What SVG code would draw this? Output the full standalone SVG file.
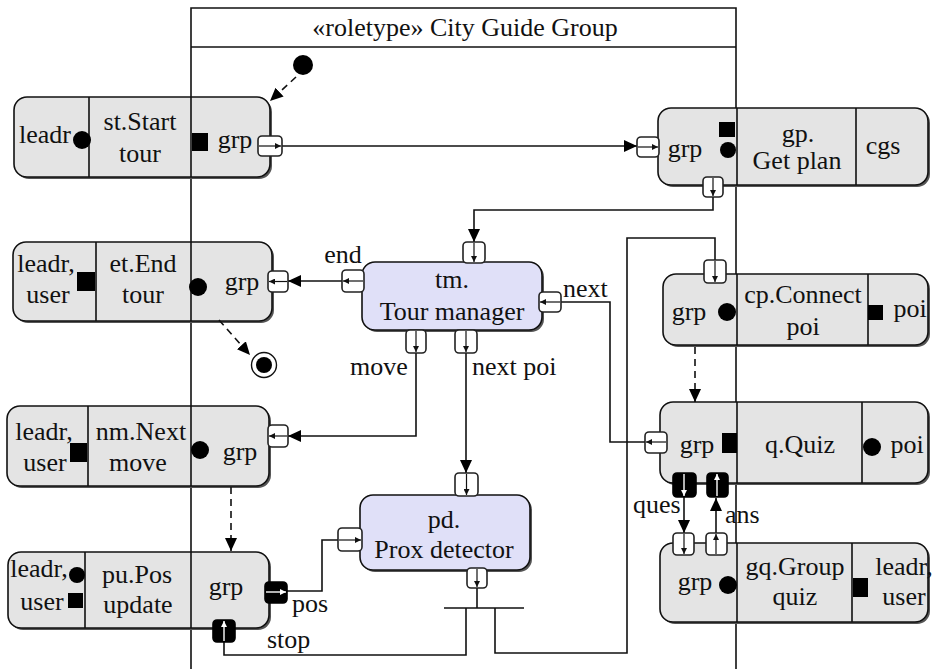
<svg xmlns="http://www.w3.org/2000/svg" width="933" height="669" viewBox="0 0 933 669" font-family="Liberation Serif, DejaVu Serif, serif">
<style>
text{font-size:26px;fill:#111;text-anchor:middle}
.lbl{text-anchor:start}
.box{fill:#e4e4e4;stroke:#111;stroke-width:1.6}
.comp{fill:#e0e0f8;stroke:#111;stroke-width:1.6}
.shadow{fill:#555}
.div{stroke:#111;stroke-width:1.6;fill:none}
.pin{fill:#000}
.port{fill:#fff;stroke:#222;stroke-width:1.6}
.bport{fill:#000;stroke:#000;stroke-width:1.6}
.pa{stroke:#111;stroke-width:1.2;fill:none;marker-end:url(#pah)}
.pw{stroke:#fff;stroke-width:1.4;fill:none;marker-end:url(#paw)}
.con{stroke:#111;stroke-width:1.6;fill:none}
.arr{marker-end:url(#ah)}
.dash{stroke-dasharray:7,5}
.frame{stroke:#111;stroke-width:1.6;fill:none}
</style>
<defs>
<marker id="ah" markerUnits="userSpaceOnUse" markerWidth="13" markerHeight="12" refX="13" refY="6" orient="auto"><path d="M0,0 L13,6 L0,12 z" fill="#000"/></marker>
<marker id="pah" markerUnits="userSpaceOnUse" markerWidth="6" markerHeight="6" refX="6" refY="3" orient="auto"><path d="M0,0 L6,3 L0,6 z" fill="#111"/></marker>
<marker id="paw" markerUnits="userSpaceOnUse" markerWidth="6" markerHeight="6" refX="6" refY="3" orient="auto"><path d="M0,0 L6,3 L0,6 z" fill="#fff"/></marker>
</defs>
<rect width="933" height="669" fill="#fff"/>

<g id="frame">
<path class="frame" d="M191,669 V8 H736 V669"/>
<path class="frame" d="M191,47 H736" stroke-width="2.2"/>
<text x="465" y="36">«roletype» City Guide Group</text>
</g>

<g id="initial"><circle cx="303" cy="65" r="10" fill="#000"/></g>
<g id="final"><circle cx="264" cy="365" r="12.5" fill="#fff" stroke="#111" stroke-width="1.4"/><circle cx="264" cy="365" r="8" fill="#000"/></g>

<g id="st">
<rect class="shadow" x="16" y="99" width="256" height="80" rx="13"/>
<rect class="box" x="14" y="97" width="256" height="80" rx="13"/>
<path class="div" d="M89,97 V177 M191,97 V177"/>
<circle class="pin" cx="82" cy="140" r="9"/>
<rect class="pin" x="192" y="133" width="16" height="18"/>
<text x="45" y="143">leadr</text>
<text x="140" y="130">st.Start</text>
<text x="140" y="162">tour</text>
<text x="235" y="148">grp</text>
</g>

<g id="gp">
<rect class="shadow" x="660" y="110" width="270" height="77" rx="13"/>
<rect class="box" x="658" y="108" width="270" height="77" rx="13"/>
<path class="div" d="M737,108 V185 M856,108 V185"/>
<rect class="pin" x="719" y="122" width="16" height="15"/>
<circle class="pin" cx="728" cy="150" r="8"/>
<text x="685" y="157">grp</text>
<text x="798" y="142">gp.</text>
<text x="797" y="169">Get plan</text>
<text x="883" y="154">cgs</text>
</g>

<g id="et">
<rect class="shadow" x="15" y="244" width="259" height="79" rx="13"/>
<rect class="box" x="13" y="242" width="259" height="79" rx="13"/>
<path class="div" d="M96,242 V321 M191,242 V321"/>
<rect class="pin" x="77" y="272" width="18" height="19"/>
<circle class="pin" cx="198" cy="287" r="9"/>
<text x="46" y="272">leadr,</text>
<text x="48" y="303">user</text>
<text x="143" y="272">et.End</text>
<text x="143" y="303">tour</text>
<text x="242" y="290">grp</text>
</g>

<g id="cp">
<rect class="shadow" x="665" y="276" width="265" height="71" rx="13"/>
<rect class="box" x="663" y="274" width="265" height="71" rx="13"/>
<path class="div" d="M737,274 V345 M868,274 V345"/>
<circle class="pin" cx="727" cy="312" r="9"/>
<rect class="pin" x="868" y="305" width="15" height="15"/>
<text x="689" y="320">grp</text>
<text x="803" y="303">cp.Connect</text>
<text x="803" y="335">poi</text>
<text x="910" y="317">poi</text>
</g>

<g id="tm">
<rect class="shadow" x="364" y="264" width="180" height="68" rx="13"/>
<rect class="comp" x="362" y="262" width="180" height="68" rx="13"/>
<text x="452" y="288">tm.</text>
<text x="452" y="320">Tour manager</text>
</g>

<g id="nm">
<rect class="shadow" x="9" y="408" width="262" height="80" rx="13"/>
<rect class="box" x="7" y="406" width="262" height="80" rx="13"/>
<path class="div" d="M88,406 V486 M191,406 V486"/>
<rect class="pin" x="70" y="443" width="17" height="19"/>
<circle class="pin" cx="200" cy="450" r="9"/>
<text x="44" y="440">leadr,</text>
<text x="45" y="471">user</text>
<text x="141" y="440">nm.Next</text>
<text x="138" y="471">move</text>
<text x="240" y="460">grp</text>
</g>

<g id="q">
<rect class="shadow" x="662" y="404" width="268" height="81" rx="13"/>
<rect class="box" x="660" y="402" width="268" height="81" rx="13"/>
<path class="div" d="M737,402 V483 M862,402 V483"/>
<rect class="pin" x="722" y="433" width="15" height="20"/>
<circle class="pin" cx="872" cy="447" r="9"/>
<text x="697" y="453">grp</text>
<text x="800" y="453">q.Quiz</text>
<text x="907" y="453">poi</text>
</g>

<g id="pd">
<rect class="shadow" x="362" y="497" width="170" height="75" rx="13"/>
<rect class="comp" x="360" y="495" width="170" height="75" rx="13"/>
<text x="444" y="528">pd.</text>
<text x="444" y="558">Prox detector</text>
</g>

<g id="pu">
<rect class="shadow" x="10" y="554" width="261" height="76" rx="13"/>
<rect class="box" x="8" y="552" width="261" height="76" rx="13"/>
<path class="div" d="M85,552 V628 M191,552 V628"/>
<text x="39" y="577">leadr,</text>
<text x="42" y="610">user</text>
<circle class="pin" cx="77" cy="575" r="8"/>
<rect class="pin" x="68" y="593" width="15" height="15"/>
<text x="137" y="583">pu.Pos</text>
<text x="138" y="613">update</text>
<text x="226" y="595">grp</text>
</g>

<g id="gq">
<rect class="shadow" x="662" y="545" width="268" height="79" rx="13"/>
<rect class="box" x="660" y="543" width="268" height="79" rx="13"/>
<path class="div" d="M737,543 V622 M852,543 V622"/>
<circle class="pin" cx="728" cy="585" r="9"/>
<rect class="pin" x="853" y="578" width="15" height="19"/>
<text x="695" y="590">grp</text>
<text x="795" y="575">gq.Group</text>
<text x="795" y="605">quiz</text>
<text x="904" y="575">leadr,</text>
<text x="904" y="605">user</text>
</g>

<g id="connectors">
<path class="con dash arr" d="M296,77 L270,101"/>
<path class="con dash arr" d="M219,320 L250,355"/>
<path class="con arr" d="M282,146 H637"/>
<path class="con arr" d="M713,197 V210 H474 V242"/>
<path class="con arr" d="M342,281 H288"/>
<path class="con arr" d="M416,353 V436 H288"/>
<path class="con arr" d="M466,353 V473" stroke="#888"/>
<path class="con" d="M645,442 H610 V302 H561"/>
<path class="con dash arr" d="M231,487 V551"/>
<path class="con" d="M287,591 H322 V540 H338"/>
<path class="con" d="M477,588 V608 M444,608 H524"/>
<path class="con" d="M466,608 V655 H224 V642"/>
<path class="con" d="M495,608 V653 H627 V238 H715 V260"/>
<path class="con dash arr" d="M695,347 V402"/>
<path class="con arr" d="M684,497 V533"/>
<path class="con arr" d="M716,533 V498"/>
</g>

<g id="ports">
<rect class="port" x="258" y="136" width="24" height="20" rx="4"/><path class="pa" d="M259,146 H281"/>
<rect class="port" x="637" y="137" width="22" height="20" rx="4"/><path class="pa" d="M638,147 H658"/>
<rect class="port" x="703" y="177" width="20" height="20" rx="4"/><path class="pa" d="M713,178 V196"/>
<rect class="port" x="463" y="242" width="22" height="21" rx="4"/><path class="pa" d="M474,243 V262"/>
<rect class="port" x="342" y="270" width="22" height="22" rx="4"/><path class="pa" d="M363,281 H343"/>
<rect class="port" x="268" y="271" width="20" height="21" rx="4"/><path class="pa" d="M287,281.5 H269"/>
<rect class="port" x="539" y="292" width="22" height="20" rx="4"/><path class="pa" d="M560,302 H540"/>
<rect class="port" x="406" y="330" width="20" height="23" rx="4"/><path class="pa" d="M416,331 V352"/>
<rect class="port" x="455" y="330" width="22" height="23" rx="4"/><path class="pa" d="M466,331 V352"/>
<rect class="port" x="268" y="425" width="20" height="22" rx="4"/><path class="pa" d="M287,436 H269"/>
<rect class="port" x="455" y="473" width="23" height="23" rx="4"/><path class="pa" d="M466.5,474 V495"/>
<rect class="port" x="338" y="528" width="24" height="23" rx="4"/><path class="pa" d="M339,540 H361"/>
<rect class="port" x="467" y="568" width="20" height="20" rx="4"/><path class="pa" d="M477,569 V587"/>
<rect class="bport" x="265" y="582" width="22" height="21" rx="4"/><path class="pw" d="M266,592 H286"/>
<rect class="bport" x="213" y="620" width="22" height="22" rx="4"/><path class="pw" d="M224,641 V621"/>
<rect class="port" x="704" y="260" width="22" height="23" rx="4"/><path class="pa" d="M715,261 V282"/>
<rect class="port" x="645" y="432" width="22" height="21" rx="4"/><path class="pa" d="M666,442 H646"/>
<rect class="bport" x="673" y="473" width="23" height="24" rx="4"/><path class="pw" d="M684,474 V496"/>
<rect class="bport" x="707" y="473" width="21" height="24" rx="4"/><path class="pw" d="M717,496 V474"/>
<rect class="port" x="673" y="533" width="21" height="22" rx="4"/><path class="pa" d="M684,534 V554"/>
<rect class="port" x="706" y="533" width="21" height="22" rx="4"/><path class="pa" d="M716,554 V534"/>
</g>

<g id="labels">
<text x="343" y="263">end</text>
<text class="lbl" x="563" y="297">next</text>
<text class="lbl" x="350" y="375">move</text>
<text class="lbl" x="472" y="375">next poi</text>
<text class="lbl" x="292" y="612">pos</text>
<text class="lbl" x="267" y="648">stop</text>
<text class="lbl" x="633" y="513">ques</text>
<text class="lbl" x="725" y="523">ans</text>
</g>
</svg>
